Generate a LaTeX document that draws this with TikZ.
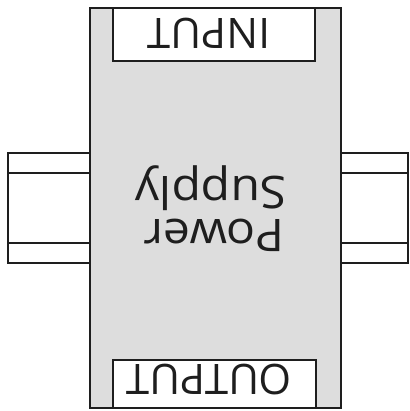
\documentclass[tikz,border=0pt]{standalone}
\usepackage{fontspec}
\setmainfont{Open Sans}
\definecolor{psgrey}{RGB}{221,221,221}
\definecolor{psline}{RGB}{30,30,30}
\tikzset{
  outline/.style={draw=psline,line width=2.4pt},
  label/.style={rotate=180,anchor=base,inner sep=0pt,text=psline}
}
\begin{document}
\begin{tikzpicture}[x=1pt,y=-1pt]
\useasboundingbox (0,0) rectangle (409,411);
\fill[white] (0,0) rectangle (409,411);
% side rails
\draw[outline,fill=white] (8,153) rectangle (90,263);
\draw[outline] (8,173) -- (90,173) (8,243) -- (90,243);
\draw[outline,fill=white] (341,153) rectangle (408,263);
\draw[outline] (341,173) -- (408,173) (341,243) -- (408,243);
% body
\draw[outline,fill=psgrey] (90,8) rectangle (341,408);
% input / output boxes
\draw[outline,fill=white] (113,8) rectangle (315,61);
\draw[outline,fill=white] (113,360) rectangle (316,408);
% texts
\node[label,font=\fontsize{42}{42}\selectfont] (in) at (209,19) {INPUT};
\node[label,font=\fontsize{42}{42}\selectfont] (out) at (209,364) {OUTPUT};
\node[label,font=\fontsize{45}{45}\selectfont,xscale=1.07] (pw) at (214,219) {Power};
\node[label,font=\fontsize{45}{45}\selectfont,xscale=1.07] (sp) at (211,177) {Supply};
\end{tikzpicture}
\end{document}
